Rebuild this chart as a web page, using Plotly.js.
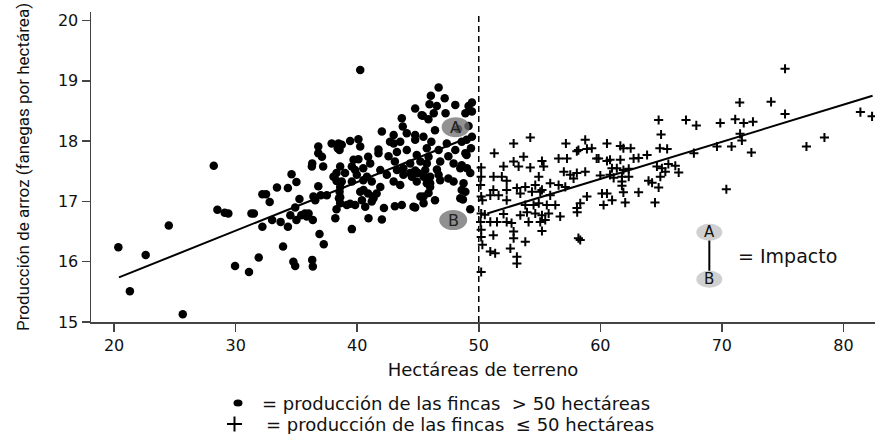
<!DOCTYPE html>
<html>
<head>
<meta charset="utf-8">
<script src="https://cdn.plot.ly/plotly-3.0.1.min.js"></script>
<style>
  html, body { margin: 0; padding: 0; background: #fff; }
  #chart { width: 875px; height: 434px; }
</style>
</head>
<body>
<div id="chart"></div>
<script>
// Fincas marcadas con punto: hectáreas y producción (fanegas por hectárea)
const puntosHa = [
  20.35, 21.3, 22.6, 24.5, 25.65, 28.2, 28.5, 29.1, 29.4, 29.95, 31.1, 31.3, 31.5, 31.9, 32.2, 32.2,
  32.5, 32.8, 33.0, 33.4, 33.7, 33.9, 34.3, 34.3, 34.6, 34.75, 34.9, 35.0, 34.9, 35.0, 35.25, 35.4,
  35.85, 36.0, 36.3, 36.35, 36.3, 36.35, 36.4, 36.55, 36.8, 36.9, 36.8, 36.8, 37.0, 37.2, 37.25, 37.5,
  37.9, 38.2, 38.3, 38.3, 38.3, 38.4, 38.55, 38.5, 40.25, 46.7, 46.06, 47.2, 49.44, 49.16, 44.77, 45.95,
  46.55, 48.07, 47.27, 45.4, 46.3, 48.9, 49.44, 43.67, 45.86, 43.75, 46.4, 42.03, 43.0, 44.08, 44.77, 45.45,
  49.44, 42.7, 43.54, 44.77, 46.1, 47.37, 48.6, 38.73, 39.42, 40.1, 40.25, 38.55, 41.75, 43.27, 44.08, 45.73,
  46.7, 48.07, 49.36, 40.9, 41.75, 42.58, 44.9, 45.87, 47.5, 49.0, 39.7, 40.1, 41.07, 43.1, 44.36, 45.2,
  45.73, 46.83, 47.93, 48.6, 39.56, 40.5, 41.9, 43.8, 44.77, 45.6, 46.56, 48.48, 49.03, 39.97, 40.8, 43.8,
  44.5, 45.46, 46.7, 47.5, 38.73, 39.56, 40.5, 41.2, 43.0, 44.9, 45.73, 46.83, 47.93, 38.6, 41.9, 43.54,
  46.0, 40.25, 40.9, 41.3, 41.6, 45.2, 45.87, 48.6, 48.9, 46.4, 44.77, 43.1, 42.2, 41.2, 40.39, 39.42,
  38.6, 38.6, 40.66, 40.93, 42.03, 39.56, 48.7, 49.3, 49.16, 48.3, 35.7, 34.5, 37.1, 36.27, 39.15, 39.83,
  41.34, 43.67, 44.63, 45.46, 45.46, 48.48, 48.75, 46.0, 46.0, 40.52, 38.05, 39.0, 44.36, 45.3, 38.46, 43.0,
  49.0, 38.6, 39.83, 42.44, 43.27, 45.0, 48.9, 49.3
];
const puntosProd = [
  16.24, 15.51, 16.11, 16.6, 15.13, 17.59, 16.86, 16.81, 16.80, 15.93, 15.83, 16.80, 16.80, 16.07, 16.58, 17.12,
  17.12, 16.99, 16.69, 17.23, 16.66, 16.25, 17.22, 16.58, 17.45, 16.0, 15.93, 17.32, 16.90, 16.69, 17.04, 16.77,
  16.75, 16.8, 17.63, 16.69, 16.03, 15.92, 17.08, 17.02, 17.25, 16.46, 17.91, 17.80, 17.10, 17.58, 16.29, 17.10,
  17.96, 16.72, 16.87, 17.47, 17.34, 17.88, 17.16, 17.05, 19.18, 18.89, 18.75, 18.71, 18.64, 18.58, 18.54, 18.61,
  18.58, 18.60, 18.46, 18.42, 18.46, 18.46, 18.49, 18.38, 18.36, 18.24, 18.18, 18.16, 18.10, 18.13, 18.10, 18.07,
  18.07, 17.99, 17.99, 18.02, 17.99, 17.96, 17.99, 17.94, 18.0, 18.03, 17.91, 17.85, 17.86, 17.82, 17.85, 17.88,
  17.85, 17.85, 17.88, 17.74, 17.80, 17.75, 17.77, 17.74, 17.75, 17.77, 17.69, 17.70, 17.63, 17.66, 17.63, 17.66,
  17.63, 17.66, 17.63, 17.60, 17.58, 17.55, 17.52, 17.55, 17.51, 17.52, 17.53, 17.55, 17.55, 17.44, 17.41, 17.44,
  17.41, 17.41, 17.44, 17.38, 17.33, 17.33, 17.35, 17.33, 17.33, 17.33, 17.30, 17.35, 17.33, 17.24, 17.24, 17.27,
  17.24, 17.16, 17.13, 17.08, 17.13, 17.08, 17.14, 17.19, 17.16, 17.02, 16.90, 16.92, 16.89, 17.0, 17.02, 16.96,
  16.97, 17.07, 16.91, 16.72, 16.70, 16.54, 17.03, 16.87, 18.25, 18.2, 16.80, 16.77, 17.74, 17.58, 16.94, 16.94,
  17.05, 16.94, 16.91, 16.97, 17.08, 17.05, 17.30, 17.30, 17.41, 17.19, 17.41, 17.47, 17.47, 18.43, 17.96, 17.96,
  18.02, 17.58, 17.52, 17.44, 17.52, 17.47, 17.80, 17.47
];

// Fincas marcadas con cruz
const cruzHa = [
  50.2, 50.2, 50.15, 50.2, 50.3, 50.2, 50.15, 50.2, 50.2, 50.3, 50.2,
  54.24, 52.87, 51.28, 57.17, 58.76, 58.9, 58.2, 59.7, 53.69, 52.87, 55.2, 56.57, 57.26, 52.04, 53.28,
  54.24, 55.34, 51.22, 51.9, 52.3, 54.94, 57.0, 57.53, 58.07, 58.76, 57.8, 51.2, 52.3, 53.14, 53.83,
  54.65, 55.2, 55.88, 56.57, 57.12, 50.95, 51.63, 52.3, 53.42, 54.38, 55.06, 55.88, 58.9, 53.83, 54.51,
  54.94, 55.6, 56.3, 58.35, 58.08, 58.1, 50.5, 52.04, 53.42, 53.97, 54.65, 55.2, 55.75, 56.7, 50.95,
  51.5, 52.3, 52.7, 54.1, 55.06, 55.47, 51.2, 52.87, 55.2, 52.87, 53.83, 58.2, 58.35, 50.95, 51.35,
  52.6, 53.14, 53.14, 58.07,
  64.8, 67.05, 67.9, 65.0, 60.55, 61.65, 61.9, 62.5, 64.9, 65.5, 59.3, 59.86, 60.55, 60.8, 61.65,
  62.74, 63.15, 63.85, 67.7, 64.66, 65.07, 65.6, 66.17, 60.96, 61.36, 61.9, 62.34, 65.35, 66.45, 60.0,
  60.8, 61.1, 61.78, 62.34, 64.94, 61.78, 63.97, 64.26, 61.78, 64.8, 60.14, 60.55, 61.9, 63.15, 60.97,
  60.27, 62.05, 64.5,
  75.2, 71.47, 74.05, 75.2, 81.4, 82.36, 69.87, 71.1, 71.8, 72.56, 71.5, 71.65, 69.6, 70.8, 76.96,
  78.44, 72.43, 70.37
];
const cruzProd = [
  17.56, 17.41, 17.27, 17.08, 17.02, 16.80, 16.66, 16.53, 16.41, 16.28, 15.83,
  18.06, 17.96, 17.80, 17.96, 18.02, 17.87, 17.85, 17.71, 17.74, 17.66, 17.67, 17.71, 17.71, 17.58, 17.58,
  17.56, 17.58, 17.41, 17.41, 17.34, 17.41, 17.49, 17.44, 17.47, 17.49, 17.38, 17.19, 17.19, 17.22, 17.24,
  17.27, 17.19, 17.30, 17.27, 17.24, 17.10, 17.10, 17.02, 17.13, 17.16, 17.16, 17.10, 17.08, 16.94, 16.94,
  16.97, 16.94, 16.94, 16.97, 16.89, 16.82, 16.78, 16.79, 16.77, 16.82, 16.80, 16.77, 16.80, 16.75, 16.66,
  16.66, 16.66, 16.64, 16.66, 16.66, 16.69, 16.44, 16.50, 16.51, 16.39, 16.33, 16.39, 16.36, 16.17, 16.14,
  16.22, 16.08, 15.97, 17.83,
  18.35, 18.35, 18.26, 18.11, 17.96, 17.92, 17.88, 17.88, 17.88, 17.87, 17.88, 17.71, 17.67, 17.69, 17.69,
  17.71, 17.72, 17.77, 17.80, 17.58, 17.55, 17.62, 17.59, 17.55, 17.55, 17.52, 17.54, 17.49, 17.48, 17.43,
  17.44, 17.39, 17.41, 17.41, 17.41, 17.33, 17.34, 17.31, 17.26, 17.23, 17.13, 17.13, 17.15, 17.15, 17.02,
  16.94, 16.98, 16.98,
  19.20, 18.64, 18.65, 18.45, 18.48, 18.41, 18.30, 18.36, 18.30, 18.32, 18.12, 18.01, 17.91, 17.91, 17.91,
  18.06, 17.81, 17.20
];

// Rectas de ajuste de cada grupo (extremos)
const ajustePuntosHa = [20.4, 48.8];
const ajustePuntosProd = [15.74, 18.03];
const ajusteCruzHa = [50.7, 82.4];
const ajusteCruzProd = [16.80, 18.75];

// Umbral de tamaño y puntos A / B
const umbralHa = 50;
const puntoA = [48.1, 18.23];
const puntoB = [47.9, 16.69];

// Ejes
const ticksHa = [20, 30, 40, 50, 60, 70, 80];
const ticksProd = [15, 16, 17, 18, 19, 20];

const tituloX = 'Hectáreas de terreno';
const tituloY = 'Producción de arroz (fanegas por hectárea)';
const leyendaPuntos = '= producción de las fincas \u00a0> 50 hectáreas';
const leyendaCruz = '= producción de las fincas \u00a0\u2264 50 hectáreas';
const textoImpacto = '= Impacto';

const WIDE = 'DejaVu Sans, Verdana, sans-serif';
const NARROW = 'Liberation Sans Narrow, Arial Narrow, Roboto, sans-serif';
const INK = '#111';
const AXIS = '#444';

const traces = [
  {
    type: 'scatter', mode: 'markers', x: puntosHa, y: puntosProd,
    marker: { symbol: 'circle', size: 8.5, color: '#000', line: { width: 0 } },
    cliponaxis: false, hoverinfo: 'x+y'
  },
  {
    type: 'scatter', mode: 'markers', x: cruzHa, y: cruzProd,
    marker: { symbol: 'cross-thin', size: 6.5, color: '#000', line: { width: 2, color: '#000' } },
    cliponaxis: false, hoverinfo: 'x+y'
  },
  {
    type: 'scatter', mode: 'lines', x: ajustePuntosHa, y: ajustePuntosProd,
    line: { color: '#000', width: 2 }, hoverinfo: 'skip'
  },
  {
    type: 'scatter', mode: 'lines', x: ajusteCruzHa, y: ajusteCruzProd,
    line: { color: '#000', width: 2 }, hoverinfo: 'skip'
  }
];

// Elipse anclada en coordenadas de datos, con tamaño en píxeles
function elipse(xref, yref, cx, cy, rx, ry, fill) {
  return {
    type: 'circle', xref: xref, yref: yref,
    xsizemode: 'pixel', ysizemode: 'pixel',
    xanchor: cx, yanchor: cy,
    x0: -rx, x1: rx, y0: -ry, y1: ry,
    fillcolor: fill, line: { width: 0 }, layer: 'above'
  };
}

// Leyenda "Impacto" y su posición (coordenadas de datos)
const impX = 68.97, impA = 16.49, impB = 15.71;

const shapes = [
  // línea vertical discontinua en el umbral
  { type: 'line', xref: 'x', yref: 'paper', x0: umbralHa, x1: umbralHa, y0: 0, y1: 1,
    line: { color: '#000', width: 1.5, dash: '6px,4px' }, layer: 'above' },
  elipse('x', 'y', puntoA[0], puntoA[1], 14, 10, 'rgba(115,115,115,0.78)'),
  elipse('x', 'y', puntoB[0], puntoB[1], 14, 10, 'rgba(125,125,125,0.85)'),
  // leyenda de impacto
  elipse('x', 'y', impX, impA, 13, 8.5, '#d0d0d0'),
  elipse('x', 'y', impX, impB, 13, 8.5, '#d0d0d0'),
  { type: 'line', xref: 'x', yref: 'y', x0: impX, x1: impX, y0: 16.35, y1: 15.85,
    line: { color: '#000', width: 2 }, layer: 'above' },
  // símbolos de la leyenda inferior
  { type: 'circle', xref: 'paper', yref: 'paper',
    x0: (233.5 - 91) / 784, x1: (242.5 - 91) / 784,
    y0: (322 - 406.5) / 310, y1: (322 - 399.5) / 310,
    fillcolor: '#000', line: { width: 0 } },
  { type: 'line', xref: 'paper', yref: 'paper',
    x0: (227 - 91) / 784, x1: (242 - 91) / 784,
    y0: (322 - 424) / 310, y1: (322 - 424) / 310,
    line: { color: '#000', width: 2 } },
  { type: 'line', xref: 'paper', yref: 'paper',
    x0: (234.5 - 91) / 784, x1: (234.5 - 91) / 784,
    y0: (322 - 416.5) / 310, y1: (322 - 431.5) / 310,
    line: { color: '#000', width: 2 } }
];

const annotations = [
  { xref: 'x', yref: 'y', x: puntoA[0], y: puntoA[1], text: 'A', showarrow: false,
    font: { family: WIDE, size: 16, color: '#222' } },
  { xref: 'x', yref: 'y', x: puntoB[0], y: puntoB[1], text: 'B', showarrow: false,
    font: { family: WIDE, size: 16, color: '#222' } },
  { xref: 'x', yref: 'y', x: impX, y: impA, text: 'A', showarrow: false,
    font: { family: WIDE, size: 15, color: '#111' } },
  { xref: 'x', yref: 'y', x: impX, y: impB, text: 'B', showarrow: false,
    font: { family: WIDE, size: 15, color: '#111' } },
  { xref: 'x', yref: 'y', x: 71.2, y: 16.09, xanchor: 'left', yanchor: 'middle',
    text: textoImpacto, showarrow: false, font: { family: WIDE, size: 19, color: INK } },
  { xref: 'paper', yref: 'paper', x: (260 - 91) / 784, y: (322 - 403) / 310,
    xanchor: 'left', yanchor: 'middle', text: leyendaPuntos, showarrow: false,
    font: { family: WIDE, size: 18, color: INK } },
  { xref: 'paper', yref: 'paper', x: (264 - 91) / 784, y: (322 - 424) / 310,
    xanchor: 'left', yanchor: 'middle', text: leyendaCruz, showarrow: false,
    font: { family: WIDE, size: 18, color: INK } }
];

const layout = {
  width: 875, height: 434,
  margin: { l: 91, r: 0, t: 12, b: 112, pad: 0 },
  paper_bgcolor: '#fff', plot_bgcolor: '#fff',
  showlegend: false,
  xaxis: {
    range: [18.1, 82.6], tickvals: ticksHa, ticktext: ticksHa.map(String),
    ticks: 'outside', ticklen: 8, tickwidth: 1.5, tickcolor: AXIS,
    showline: true, linecolor: AXIS, linewidth: 1.5,
    showgrid: false, zeroline: false,
    tickfont: { family: WIDE, size: 16, color: INK },
    title: { text: tituloX, font: { family: WIDE, size: 18, color: INK }, standoff: 9 }
  },
  yaxis: {
    range: [15, 20.14], tickvals: ticksProd, ticktext: ticksProd.map(String),
    ticks: 'outside', ticklen: 8, tickwidth: 1.5, tickcolor: AXIS,
    showline: true, linecolor: AXIS, linewidth: 1.5,
    showgrid: false, zeroline: false,
    tickfont: { family: WIDE, size: 16, color: INK },
    title: { text: tituloY, font: { family: NARROW, size: 17, color: INK }, standoff: 24 }
  },
  shapes: shapes,
  annotations: annotations
};

Plotly.newPlot('chart', traces, layout, { displayModeBar: false, staticPlot: true });
</script>
</body>
</html>
